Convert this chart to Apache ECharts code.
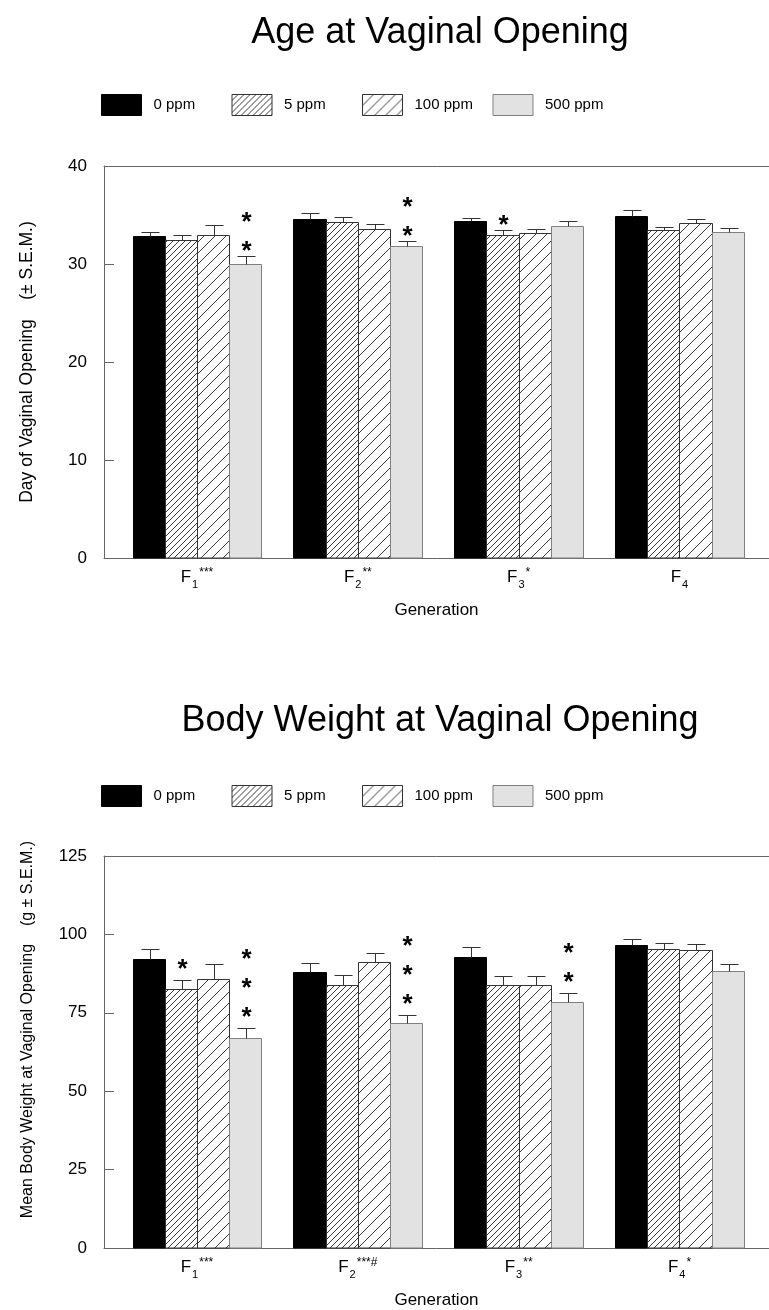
<!DOCTYPE html>
<html>
<head>
<meta charset="utf-8">
<script src="https://cdn.jsdelivr.net/npm/echarts@6/dist/echarts.min.js"></script>
<style>
html, body { margin: 0; padding: 0; background: #fff; }
#main { width: 769px; height: 1310px; }
</style>
</head>
<body>
<div id="main"></div>
<script>
// doses (legend) and generations (x positions)
var doses = ['0 ppm', '5 ppm', '100 ppm', '500 ppm'];
var generations = [1, 2, 3, 4];
var genSub = ['1', '2', '3', '4'];
var ageSup = ['***', '**', '*', ''];
var weightSup = ['***', '***#', '**', '*'];

// y ticks
var ageTicks = [0, 10, 20, 30, 40];
var weightTicks = [0, 25, 50, 75, 100, 125];

// Age at vaginal opening (days) and S.E.M.
var age0 = [32.9, 34.6, 34.35, 34.9];
var age5 = [32.45, 34.3, 33.0, 33.5];
var age100 = [33.0, 33.6, 33.2, 34.15];
var age500 = [30.0, 31.8, 33.9, 33.3];
var ageSem0 = [0.4, 0.6, 0.37, 0.6];
var ageSem5 = [0.55, 0.5, 0.45, 0.25];
var ageSem100 = [0.95, 0.5, 0.4, 0.4];
var ageSem500 = [0.8, 0.5, 0.5, 0.35];
var ageStars0 = [0, 0, 0, 0];
var ageStars5 = [0, 0, 1, 0];
var ageStars100 = [0, 0, 0, 0];
var ageStars500 = [2, 2, 0, 0];

// Body weight at vaginal opening (g) and S.E.M.
var weight0 = [92.3, 88.1, 92.8, 96.5];
var weight5 = [82.6, 84.0, 83.8, 95.5];
var weight100 = [85.8, 91.3, 83.8, 94.9];
var weight500 = [67.0, 71.6, 78.4, 88.2];
var weightSem0 = [3.2, 2.8, 3.3, 2.1];
var weightSem5 = [3.0, 2.9, 2.8, 1.9];
var weightSem100 = [4.9, 2.8, 3.0, 2.0];
var weightSem500 = [3.0, 2.8, 2.9, 2.5];
var weightStars0 = [0, 0, 0, 0];
var weightStars5 = [1, 0, 0, 0];
var weightStars100 = [0, 0, 0, 0];
var weightStars500 = [3, 3, 2, 0];

var FONT = '"Liberation Sans", Arial, sans-serif';

// diagonal hatching
function hatch(p) {
    var c = document.createElement('canvas');
    c.width = p; c.height = p;
    var g = c.getContext('2d');
    g.fillStyle = '#fff';
    g.fillRect(0, 0, p, p);
    g.strokeStyle = '#222';
    g.lineWidth = 0.9;
    g.beginPath();
    g.moveTo(0, p); g.lineTo(p, 0);
    g.moveTo(-1, 1); g.lineTo(1, -1);
    g.moveTo(p - 1, p + 1); g.lineTo(p + 1, p - 1);
    g.stroke();
    return c;
}
var fills = ['#000', {image: hatch(6), repeat: 'repeat'}, {image: hatch(11), repeat: 'repeat'}, '#e2e2e2'];
var strokes = ['#000', '#333', '#333', '#808080'];

function makeSeries(chart, dose, values, sems, stars, starGap) {
    var data = [];
    for (var i = 0; i < values.length; i++) {
        data.push([generations[i], values[i], sems[i], stars[i]]);
    }
    return {
        type: 'custom',
        name: doses[dose],
        xAxisIndex: chart * 2,
        yAxisIndex: chart,
        itemStyle: {color: fills[dose], borderColor: strokes[dose], borderWidth: 1},
        encode: {x: 0, y: 1},
        data: data,
        renderItem: function (params, api) {
            var x = api.value(0), v = api.value(1), s = api.value(2), n = api.value(3);
            var c = api.coord([x, v]);
            var base = api.coord([x, 0]);
            var w = api.size([1, 0])[0] * 0.2;
            var left = Math.round(c[0] + (dose - 2) * w) + 0.5;
            var right = Math.round(c[0] + (dose - 1) * w) + 0.5;
            var top = Math.round(c[1]) + 0.5;
            var errTop = Math.round(api.coord([x, v + s])[1]) + 0.5;
            var mid = Math.round((left + right) / 2) + 0.5;
            var kids = [
                {type: 'rect', shape: {x: left, y: top, width: right - left, height: base[1] - top},
                    style: {fill: fills[dose], stroke: strokes[dose], lineWidth: 1}},
                {type: 'line', shape: {x1: mid, y1: top, x2: mid, y2: errTop},
                    style: {stroke: '#333', lineWidth: 1}},
                {type: 'line', shape: {x1: mid - 9, y1: errTop, x2: mid + 9, y2: errTop},
                    style: {stroke: '#333', lineWidth: 1}}
            ];
            for (var k = 0; k < n; k++) {
                kids.push({type: 'text', style: {text: '*', x: mid, y: errTop - starGap - k * 29 + 6,
                    align: 'center', verticalAlign: 'middle', fill: '#000',
                    font: 'bold 26px ' + FONT}});
            }
            return {type: 'group', children: kids};
        }
    };
}

function genAxis(grid, sups) {
    return {
        gridIndex: grid, type: 'value', min: 0.422, max: 4.5566, position: 'bottom',
        axisLine: {show: true, lineStyle: {color: '#666', width: 1}},
        axisTick: {show: false},
        splitLine: {show: false},
        axisLabel: {
            customValues: generations, margin: 10,
            formatter: function (val) {
                var i = Math.round(val) - 1;
                return '{f|F}{sub|' + genSub[i] + '}' + (sups[i] ? '{sup|' + sups[i] + '}' : '');
            },
            rich: {
                f: {fontSize: 17, fontFamily: FONT, color: '#000', lineHeight: 18},
                sub: {fontSize: 11, fontFamily: FONT, color: '#000', lineHeight: 11, padding: [16, 0, 0, 1]},
                sup: {fontSize: 12, fontFamily: FONT, color: '#000', lineHeight: 12, padding: [0, 0, 8, 1]}
            }
        },
        name: 'Generation', nameLocation: 'middle', nameGap: 44,
        nameTextStyle: {fontSize: 17, fontFamily: FONT, color: '#000'}
    };
}
function frameAxis(grid) {
    return {
        gridIndex: grid, type: 'value', min: 0.422, max: 4.5566, position: 'top',
        axisLine: {show: true, lineStyle: {color: '#666', width: 1}},
        axisTick: {show: false}, axisLabel: {show: false}, splitLine: {show: false}
    };
}
function valAxis(grid, ticks, name, size, pad) {
    return {
        gridIndex: grid, type: 'value', min: ticks[0], max: ticks[ticks.length - 1],
        interval: ticks[1] - ticks[0],
        axisLine: {show: true, lineStyle: {color: '#666', width: 1}},
        axisTick: {show: true, inside: true, length: 10, lineStyle: {color: '#666'}},
        splitLine: {show: false},
        axisLabel: {margin: 17, fontSize: 17, fontFamily: FONT, color: '#000'},
        name: name, nameLocation: 'middle', nameRotate: 90, nameGap: 68,
        nameTextStyle: {fontSize: size, fontFamily: FONT, color: '#000', padding: pad}
    };
}
// one legend box per dose so the items sit on a fixed 130px pitch
function legendsAt(top) {
    var list = [];
    for (var i = 0; i < doses.length; i++) {
        list.push({
            top: top, left: 101 + i * 130.5, padding: 0, icon: 'rect',
            itemWidth: 40, itemHeight: 21, data: [doses[i]], selectedMode: false,
            itemStyle: {borderWidth: 1},
            textStyle: {fontSize: 15, fontFamily: FONT, color: '#000', padding: [0, 0, 0, 7]}
        });
    }
    return list;
}

var chart = echarts.init(document.getElementById('main'));
var option = {
    animation: false,
    backgroundColor: '#fff',
    textStyle: {fontFamily: FONT},
    title: [
        {text: 'Age at Vaginal Opening', left: 440, top: 15, textAlign: 'center', padding: 0,
            textStyle: {fontSize: 36, fontWeight: 'normal', fontFamily: FONT, color: '#000'}},
        {text: 'Body Weight at Vaginal Opening', left: 440, top: 703, textAlign: 'center', padding: 0,
            textStyle: {fontSize: 36, fontWeight: 'normal', fontFamily: FONT, color: '#000'}}
    ],
    legend: legendsAt(94).concat(legendsAt(785)),
    grid: [
        {left: 104, top: 166, width: 665, height: 392},
        {left: 104, top: 856, width: 665, height: 393}
    ],
    xAxis: [genAxis(0, ageSup), frameAxis(0), genAxis(1, weightSup), frameAxis(1)],
    yAxis: [
        valAxis(0, ageTicks, 'Day of Vaginal Opening    (\u00b1 S.E.M.)', 17.5, [0, 0, 0, 0]),
        valAxis(1, weightTicks, 'Mean Body Weight at Vaginal Opening    (g \u00b1 S.E.M.)', 16, [0, 0, 0, 45])
    ],
    series: [
        makeSeries(0, 0, age0, ageSem0, ageStars0, 11),
        makeSeries(0, 1, age5, ageSem5, ageStars5, 11),
        makeSeries(0, 2, age100, ageSem100, ageStars100, 11),
        makeSeries(0, 3, age500, ageSem500, ageStars500, 11),
        makeSeries(1, 0, weight0, weightSem0, weightStars0, 17),
        makeSeries(1, 1, weight5, weightSem5, weightStars5, 17),
        makeSeries(1, 2, weight100, weightSem100, weightStars100, 17),
        makeSeries(1, 3, weight500, weightSem500, weightStars500, 17)
    ]
};
chart.setOption(option);
</script>
</body>
</html>
